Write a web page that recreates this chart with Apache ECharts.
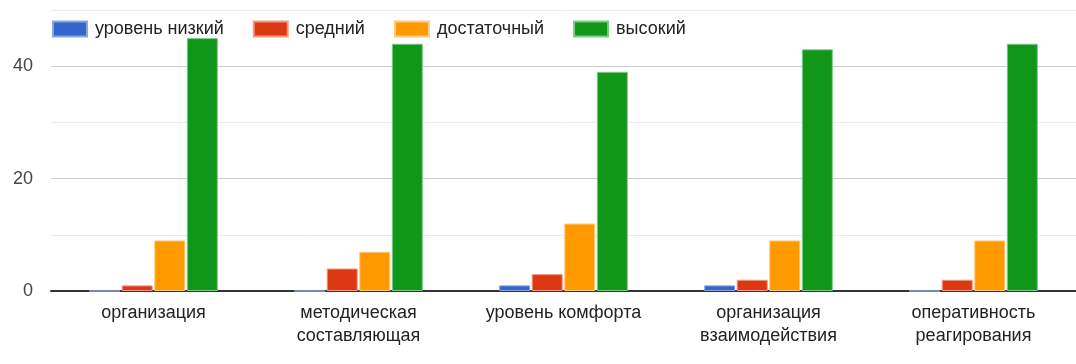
<!DOCTYPE html>
<html><head><meta charset="utf-8">
<script src="https://cdn.jsdelivr.net/npm/echarts@6/dist/echarts.min.js"></script>
<style>html,body{margin:0;padding:0;background:#fff}#c{width:1076px;height:364px}</style>
</head><body><div id="c"></div>
<script>
const categories = ['организация', 'методическая\nсоставляющая', 'уровень комфорта', 'организация\nвзаимодействия', 'оперативность\nреагирования'];
const seriesNames = ['уровень низкий', 'средний', 'достаточный', 'высокий'];
const low = [0, 0, 1, 1, 0];
const medium = [1, 4, 3, 2, 2];
const sufficient = [9, 7, 12, 9, 9];
const high = [45, 44, 39, 43, 44];
const yTickLabels = {0: '0', 20: '20', 40: '40'};

const colors = ['#3366cc', '#dc3912', '#ff9900', '#109618'];
const borders = ['#8aa6e0', '#ee9a86', '#ffcb80', '#80c98a'];
const values = [low, medium, sufficient, high];
const font = 'Liberation Sans, Arial, sans-serif';

const chart = echarts.init(document.getElementById('c'), null, {renderer: 'canvas'});
chart.setOption({
  animation: false,
  color: colors,
  grid: {left: 51, right: 0, top: 10, bottom: 73},
  legend: {
    left: 52, top: 20, padding: 0, itemWidth: 34, itemHeight: 15, itemGap: 29,
    icon: 'rect',
    textStyle: {fontFamily: font, fontSize: 18, color: '#222', padding: [0, 0, 0, 3]},
    data: seriesNames
  },
  xAxis: {
    type: 'category', data: categories,
    axisLine: {lineStyle: {color: '#333', width: 2}},
    axisTick: {show: false},
    axisLabel: {fontFamily: font, fontSize: 18, color: '#222', lineHeight: 23, margin: 11}
  },
  yAxis: {
    type: 'value', min: 0, max: 50, interval: 10,
    axisLine: {show: false}, axisTick: {show: false},
    axisLabel: {fontFamily: font, fontSize: 18, color: '#444', margin: 18,
      formatter: v => yTickLabels[v] !== undefined ? yTickLabels[v] : ''},
    splitLine: {lineStyle: {color: ['#cccccc', '#ebebeb'], width: 1}}
  },
  series: seriesNames.map((n, i) => ({
    name: n, type: 'bar', data: values[i],
    barWidth: 31, barGap: '5%',
    itemStyle: {color: colors[i], borderColor: borders[i], borderWidth: 1}
  }))
});
</script></body></html>
